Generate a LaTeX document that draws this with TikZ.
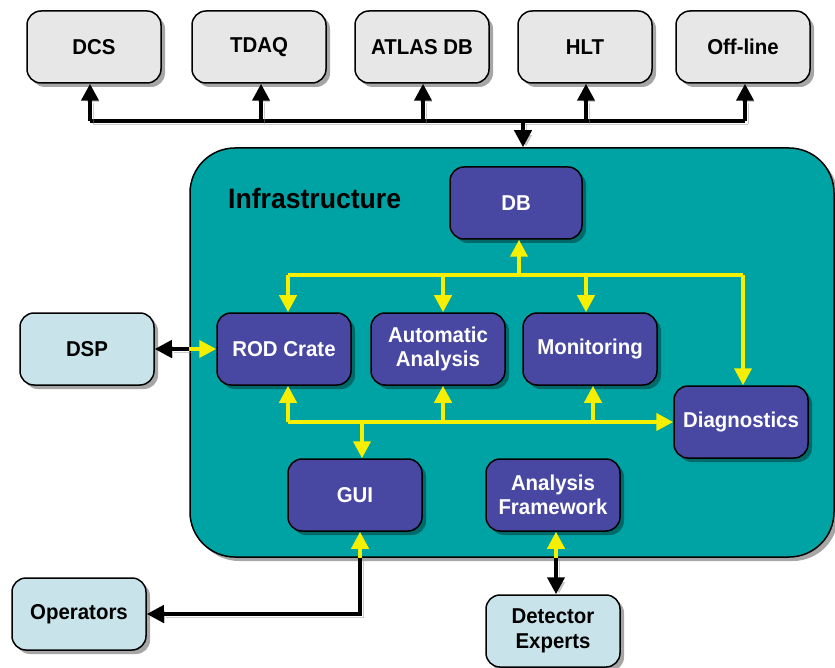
\documentclass[tikz,border=0pt]{standalone}
\usepackage{fontspec}
\setmainfont{Liberation Sans}
\newfontfamily\labelfont[FakeStretch=0.95]{Liberation Sans}
\usetikzlibrary{arrows.meta,shadows,calc}

\definecolor{infrafill}{RGB}{0,163,163}
\definecolor{innerfill}{RGB}{72,72,162}
\definecolor{extfill}{RGB}{231,231,231}
\definecolor{userfill}{RGB}{200,228,234}
\definecolor{busyellow}{RGB}{246,240,0}

\tikzset{
  x=1pt, y=-1pt,
  box/.style={draw=black, line width=1.5pt, rounded corners=14pt,
    minimum width=134pt, minimum height=72pt, align=center,
    font=\labelfont\fontsize{21.5}{24.5}\selectfont\bfseries,
    drop shadow={shadow xshift=4pt, shadow yshift=-4pt, opacity=0.35, fill=black}},
  extbox/.style={box, fill=extfill, text=black},
  innerbox/.style={box, fill=innerfill, text=white},
  userbox/.style={box, fill=userfill, text=black},
  tip/.style={-{Triangle[length=17pt,width=17pt]}},
  blk/.style={draw=black, line width=4pt,
    preaction={draw=black!45, opacity=0.45, transform canvas={shift={(3pt,-3pt)}}}},
  ylw/.style={draw=busyellow, line width=4pt},
}

\begin{document}
\begin{tikzpicture}
\useasboundingbox (0,0) rectangle (835,668);

% external systems
\node[extbox] (dcs)   at (94,47)  {DCS};
\node[extbox] (tdaq)  at (259,47) {TDAQ};
\node[extbox] (atlas) at (422,47) {ATLAS DB};
\node[extbox] (hlt)   at (585,47) {HLT};
\node[extbox] (off)   at (743,47) {Off-line};

% infrastructure frame
\node[draw=black, line width=1.5pt, fill=infrafill, rounded corners=45pt,
      minimum width=644pt, minimum height=409pt,
      drop shadow={shadow xshift=4pt, shadow yshift=-4pt, opacity=0.35, fill=black}]
      (infra) at (512,352.5) {};
\node[font=\labelfont\fontsize{28}{30}\selectfont\bfseries, anchor=west, inner sep=0pt]
      (title) at (228,198) {Infrastructure};

% components
\node[innerbox, minimum width=132pt] (db) at (516,203) {DB};
\node[innerbox] (rod)  at (284,349) {ROD Crate};
\node[innerbox] (auto) at (438,349) {Automatic\\Analysis};
\node[innerbox] (mon)  at (590,349) {Monitoring};
\node[innerbox] (diag) at (741,422) {Diagnostics};
\node[innerbox] (gui)  at (355,495) {GUI};
\node[innerbox] (af)   at (553,495) {Analysis\\Framework};

% users and hardware
\node[userbox] (dsp) at (87,349)  {DSP};
\node[userbox] (ops) at (79,614)  {Operators};
\node[userbox] (de)  at (553,631) {Detector\\Experts};

% external bus
\coordinate (tbus) at (523,121);
\draw[blk] ([xshift=-4pt]dcs.south |- tbus) -- ([xshift=2pt]off.south |- tbus);
\foreach \n/\dx in {dcs/-4,tdaq/2,atlas/1,hlt/1,off/2}
  \draw[blk,tip] ([xshift=\dx pt]\n.south |- tbus) -- ([xshift=\dx pt]\n.south);
\draw[blk,tip] (tbus) -- (tbus |- infra.north);

% upper internal bus
\coordinate (ubus) at (519,275);
\draw[ylw] ([xshift=4pt]rod.north |- ubus) -- ([xshift=2pt]diag.north |- ubus);
\draw[ylw,tip] (ubus) -- (ubus |- db.south);
\foreach \n/\dx in {rod/4,auto/5,mon/-4,diag/2}
  \draw[ylw,tip] ([xshift=\dx pt]\n.north |- ubus) -- ([xshift=\dx pt]\n.north);

% lower internal bus
\coordinate (lbus) at (362,422);
\draw[ylw,tip] ([xshift=4pt]rod.south |- lbus) -- (diag.west);
\foreach \n/\dx in {rod/4,auto/5,mon/3}
  \draw[ylw,tip] ([xshift=\dx pt]\n.south |- lbus) -- ([xshift=\dx pt]\n.south);
\draw[ylw,tip] (lbus) -- (lbus |- gui.north);

% DSP link
\coordinate (dspj) at (infra.west |- dsp.east);
\draw[blk,tip] (dspj) -- (dsp.east);
\draw[ylw,tip] (dspj) -- (rod.west);

% operators link
\coordinate (guij) at ([xshift=5pt]gui.south |- infra.south);
\draw[blk,tip] (guij) |- (ops.east);
\draw[ylw,tip] (guij) -- (guij |- gui.south);

% detector experts link
\coordinate (afj) at ([xshift=3pt]af.south |- infra.south);
\draw[blk,tip] (afj) -- (afj |- de.north);
\draw[ylw,tip] (afj) -- (afj |- af.south);
\end{tikzpicture}
\end{document}
